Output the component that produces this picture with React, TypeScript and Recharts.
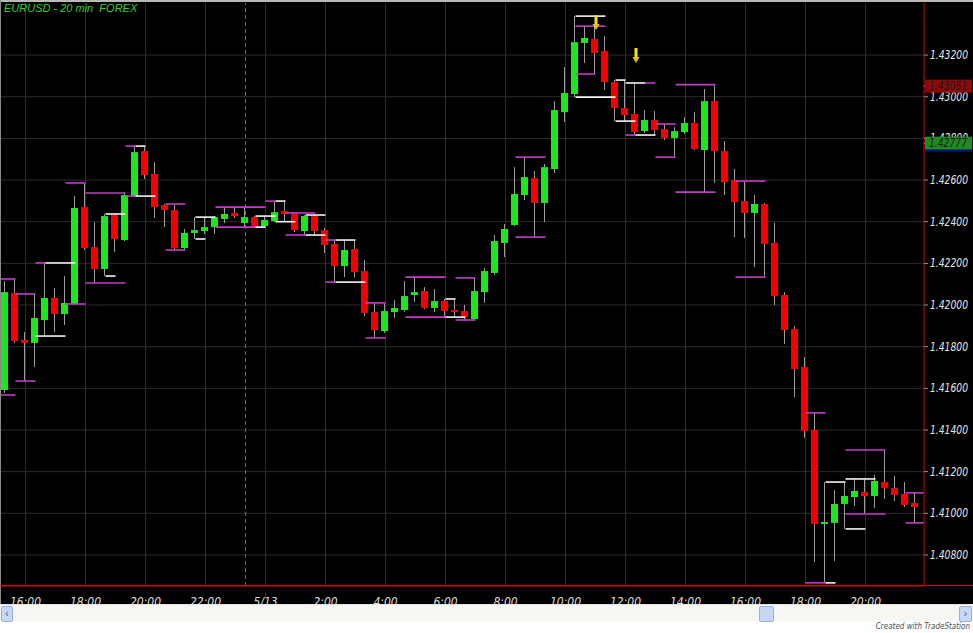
import React from 'react';
import {
  ComposedChart,
  Bar,
  XAxis,
  YAxis,
  CartesianGrid,
  ReferenceLine,
  ReferenceDot,
} from 'recharts';

// --- Data (EURUSD 20 min bars) ---

const openPrices = [
  1.41592, 1.42058, 1.41832, 1.41818, 1.41928, 1.42034, 1.41957, 1.42005, 1.4247, 1.42278,
  1.42173, 1.42432, 1.42312, 1.42523, 1.42739, 1.42629, 1.4248, 1.42456, 1.42274, 1.42346,
  1.42355, 1.42374, 1.42413, 1.42442, 1.42394, 1.42422, 1.42379, 1.42403, 1.42451, 1.42442,
  1.42355, 1.42427, 1.4236, 1.42293, 1.42187, 1.42269, 1.42163, 1.41966, 1.41875, 1.41966,
  1.41976, 1.42048, 1.42067, 1.41986, 1.42019, 1.41976, 1.41971, 1.41933, 1.42062, 1.42154,
  1.42298, 1.42384, 1.42528, 1.4261, 1.4249, 1.42653, 1.42926, 1.43013, 1.43258, 1.43277,
  1.43219, 1.4307, 1.42946, 1.42917, 1.42835, 1.42888, 1.42845, 1.42802, 1.4283, 1.42874,
  1.42744, 1.42979, 1.42739, 1.426, 1.42499, 1.42442, 1.42485, 1.42298, 1.42048, 1.41885,
  1.41702, 1.414, 1.40949, 1.40954, 1.41045, 1.41078, 1.41102, 1.41083, 1.4115, 1.41122,
  1.41093, 1.4105,
];

const highPrices = [
  1.42115, 1.42125, 1.4187, 1.42053, 1.42202, 1.42082, 1.42139, 1.42523, 1.42586, 1.42398,
  1.42437, 1.42437, 1.42542, 1.42763, 1.42758, 1.42686, 1.42485, 1.4248, 1.42365, 1.42422,
  1.42422, 1.42427, 1.42466, 1.42466, 1.4247, 1.42427, 1.42427, 1.42499, 1.42499, 1.42446,
  1.42432, 1.42432, 1.4237, 1.42312, 1.42312, 1.42312, 1.42216, 1.4201, 1.4201, 1.42024,
  1.42115, 1.42134, 1.42086, 1.42077, 1.42029, 1.42029, 1.42, 1.4213, 1.42178, 1.42336,
  1.42389, 1.42662, 1.4271, 1.42643, 1.42677, 1.42979, 1.43142, 1.43387, 1.43339, 1.43339,
  1.43291, 1.4308, 1.4308, 1.43066, 1.42936, 1.42931, 1.42869, 1.42854, 1.42902, 1.42926,
  1.43037, 1.43056, 1.42787, 1.42653, 1.42595, 1.42528, 1.4249, 1.42394, 1.42062, 1.41899,
  1.4175, 1.41482, 1.4115, 1.41112, 1.4115, 1.41165, 1.41165, 1.41184, 1.41304, 1.41179,
  1.4115, 1.41098,
];

const lowPrices = [
  1.41578, 1.41818, 1.41635, 1.41702, 1.41851, 1.4187, 1.41904, 1.42, 1.42264, 1.42106,
  1.42139, 1.42254, 1.42307, 1.42518, 1.42605, 1.42418, 1.42374, 1.42264, 1.42264, 1.42317,
  1.42341, 1.42341, 1.42394, 1.42418, 1.42374, 1.42374, 1.42374, 1.42398, 1.42398, 1.4235,
  1.42336, 1.42336, 1.4225, 1.4211, 1.42134, 1.42134, 1.41947, 1.41842, 1.41866, 1.41938,
  1.41966, 1.42014, 1.41981, 1.41966, 1.41938, 1.41942, 1.41923, 1.41928, 1.4201, 1.42144,
  1.4223, 1.42379, 1.42504, 1.42326, 1.42398, 1.42634, 1.42878, 1.42998, 1.43162, 1.43109,
  1.43032, 1.42883, 1.42883, 1.42816, 1.42826, 1.42816, 1.42792, 1.4271, 1.42821, 1.42744,
  1.42542, 1.42586, 1.42528, 1.42326, 1.42322, 1.42182, 1.42134, 1.42, 1.41813, 1.41558,
  1.41362, 1.40766, 1.40666, 1.40771, 1.40925, 1.41035, 1.40997, 1.41026, 1.41069, 1.41059,
  1.4103, 1.40954,
];

const closePrices = [
  1.42062, 1.41827, 1.41818, 1.41938, 1.42034, 1.41957, 1.4201, 1.42466, 1.42274, 1.42173,
  1.42427, 1.42317, 1.42528, 1.42734, 1.42624, 1.4247, 1.42456, 1.42274, 1.42346, 1.4236,
  1.42374, 1.42422, 1.42437, 1.42427, 1.42422, 1.42379, 1.42408, 1.42446, 1.42437, 1.4236,
  1.42427, 1.42355, 1.42288, 1.42187, 1.42264, 1.42158, 1.41962, 1.4188, 1.41971, 1.41986,
  1.42043, 1.42062, 1.41986, 1.42019, 1.41971, 1.41966, 1.41942, 1.42067, 1.42163, 1.42307,
  1.42365, 1.42533, 1.42614, 1.4249, 1.42662, 1.42936, 1.43018, 1.43262, 1.43282, 1.4321,
  1.4307, 1.42946, 1.42912, 1.4283, 1.42888, 1.4284, 1.42802, 1.42835, 1.42874, 1.42749,
  1.42979, 1.42739, 1.4259, 1.42494, 1.42442, 1.42485, 1.42293, 1.42043, 1.4188, 1.41693,
  1.41395, 1.40949, 1.40958, 1.41045, 1.41083, 1.41107, 1.41083, 1.41155, 1.41122, 1.41088,
  1.4104, 1.4103,
];

// bar index of each time label on the bottom axis (every 2 hours)
const timeTickBars = [2, 8, 14, 20, 26, 32, 38, 44, 50, 56, 62, 68, 74, 80, 86];
const timeLabels = [
  '16:00', '18:00', '20:00', '22:00', '5/13', '2:00', '4:00', '6:00',
  '8:00', '10:00', '12:00', '14:00', '16:00', '18:00', '20:00',
];
const priceTicks = [
  1.408, 1.41, 1.412, 1.414, 1.416, 1.418, 1.42, 1.422, 1.424, 1.426, 1.428, 1.43, 1.432,
];
const sessionBreakBar = 24;

// swing high/low levels drawn by the study: [fromBar, toBar, price, kind]
const levelLines: [number, number, number, 'm' | 'w'][] = [
  [-0.5, 1, 1.42125, 'm'], [-0.5, 1, 1.41568, 'm'], [1, 3, 1.41635, 'm'], [1, 3, 1.42053, 'm'],
  [3, 4, 1.42202, 'm'], [4, 7, 1.42202, 'w'], [3, 6, 1.41851, 'w'], [6, 8, 1.42005, 'm'],
  [6, 8, 1.42586, 'm'], [8, 12, 1.42538, 'm'], [12, 13, 1.42523, 'm'], [13, 15, 1.42523, 'w'],
  [8, 12, 1.42106, 'm'], [10, 12, 1.42437, 'w'], [10, 11, 1.42139, 'w'], [12, 13, 1.42763, 'm'],
  [13, 14, 1.42763, 'w'], [16, 18, 1.42485, 'm'], [16, 18, 1.42264, 'm'], [19, 21, 1.42422, 'w'],
  [19, 20, 1.42317, 'w'], [21, 26, 1.4247, 'm'], [21, 26, 1.42374, 'm'], [25, 27, 1.42427, 'w'],
  [25, 26, 1.42374, 'w'], [26, 27, 1.42499, 'm'], [27, 28, 1.42499, 'w'], [27, 29, 1.424, 'w'],
  [28, 31, 1.42442, 'm'], [30, 32, 1.42432, 'w'], [28, 30, 1.42336, 'm'], [30, 32, 1.42336, 'w'],
  [32, 33, 1.42312, 'm'], [33, 35, 1.42312, 'w'], [32, 33, 1.4211, 'm'], [33, 36, 1.4211, 'w'],
  [36, 38, 1.4201, 'm'], [36, 38, 1.41842, 'm'], [40, 44, 1.42134, 'm'], [40, 44, 1.41942, 'm'],
  [44, 46, 1.41942, 'w'], [44, 45, 1.42029, 'w'], [45, 47, 1.4213, 'm'], [45, 47, 1.41928, 'm'],
  [51, 54, 1.4271, 'm'], [51, 54, 1.42326, 'm'], [57, 60, 1.43387, 'w'], [57, 60, 1.43339, 'm'],
  [57, 61, 1.42998, 'w'], [57, 59, 1.43109, 'm'], [61, 62, 1.4308, 'w'], [62, 64, 1.43066, 'w'],
  [64, 65, 1.43066, 'm'], [61, 63, 1.42883, 'w'], [62, 63, 1.42816, 'm'], [63, 65, 1.42816, 'w'],
  [65, 67, 1.42869, 'm'], [65, 67, 1.4271, 'm'], [67, 71, 1.43058, 'm'], [67, 71, 1.42542, 'm'],
  [73, 76, 1.42595, 'm'], [73, 76, 1.42134, 'm'], [80, 82, 1.41482, 'm'], [80, 82, 1.40666, 'm'],
  [82, 83, 1.40666, 'w'], [82, 84, 1.4115, 'w'], [84, 86, 1.40925, 'w'], [84, 87, 1.41165, 'w'],
  [84, 88, 1.41304, 'm'], [84, 88, 1.40997, 'm'], [90, 92, 1.41098, 'm'], [90, 92, 1.40954, 'm'],
];

// yellow signal arrows: bar index + price at the arrow tip
const arrowBars = [59, 63];
const arrowPrices = [1.4332, 1.43162];

// study values shown in the price scale
const markerPrices = [1.43051, 1.42777];
const markerColors = ['#8e0a0a', '#1f8a1f'];

// --- Constants ---
const WIDTH = 973;
const CHART_H = 612;
const X_DOMAIN: [number, number] = [-0.45, 91.85];
const Y_DOMAIN: [number, number] = [1.40651, 1.4345];
const UP = '#1ee61e';
const DOWN = '#f40000';
const WICK = '#9c9c9c';
const MAGENTA = '#c23cc6';
const NARROW = "'Liberation Sans Narrow', 'DejaVu Sans Condensed', sans-serif";

const candles = openPrices.map((o, i) => ({
  i,
  o,
  h: highPrices[i],
  l: lowPrices[i],
  c: closePrices[i],
  range: [lowPrices[i], highPrices[i]],
}));

const Candle = (props: any) => {
  const { x, y, width, height, payload } = props;
  if (!payload) return null;
  const { o, h, l, c } = payload;
  const top = Math.min(y, y + height);
  const hh = Math.abs(height);
  const k = hh / (h - l || 1);
  const yOf = (v: number) => top + (h - v) * k;
  const bTop = yOf(Math.max(o, c));
  const bBot = yOf(Math.min(o, c));
  const cx = Math.round(x + width / 2) - 0.5;
  return (
    <g>
      <line x1={cx} x2={cx} y1={top} y2={top + hh} stroke={WICK} strokeWidth={1} />
      <rect
        x={cx - 3.5}
        y={bTop}
        width={7}
        height={Math.max(bBot - bTop, 2)}
        fill={c >= o ? UP : DOWN}
      />
    </g>
  );
};

const TimeTick = (props: any) => {
  const { x, y, payload } = props;
  const label = timeLabels[timeTickBars.indexOf(payload.value)] ?? '';
  return (
    <g>
      {label === '5/13' && <line x1={x} x2={x} y1={y - 1} y2={y + 4} stroke="#e00000" />}
      <text
        x={x}
        y={y + 12}
        textAnchor="middle"
        fill="#dcdcdc"
        fontSize={12}
        fontStyle="italic"
        fontFamily={NARROW}
      >
        {label}
      </text>
    </g>
  );
};

// price scale label; the study values get a coloured box drawn over the scale
const PriceTick = (props: any) => {
  const { x, y, payload } = props;
  const value = Number(payload.value);
  const mk = markerPrices.indexOf(value);
  if (mk >= 0) {
    const left = x - 5;
    return (
      <g>
        <rect x={left} y={y - 6.5} width={47} height={13} fill={markerColors[mk]} />
        {mk === 1 && <rect x={left} y={y + 6.5} width={47} height={2} fill="#10108a" />}
        <text
          x={left + 4}
          y={y + 4}
          fill="#1a1a1a"
          fontSize={12}
          fontStyle="italic"
          fontFamily={NARROW}
          textLength={38}
          lengthAdjust="spacingAndGlyphs"
        >
          {value.toFixed(5)}
        </text>
      </g>
    );
  }
  return (
    <text
      x={x}
      y={y + 4}
      textAnchor="start"
      fill="#e6e6e6"
      fontSize={12}
      fontStyle="italic"
      fontFamily={NARROW}
      textLength={38}
      lengthAdjust="spacingAndGlyphs"
    >
      {value.toFixed(5)}
    </text>
  );
};

const Arrow = (props: any) => {
  const { cx, cy } = props;
  if (cx == null || cy == null) return null;
  return (
    <g>
      <rect x={cx - 1} y={cy - 15} width={3} height={10} fill="#f2e600" />
      <path d={`M${cx - 3},${cy - 6} L${cx + 4},${cy - 6} L${cx + 0.5},${cy} Z`} fill="#e8c400" />
    </g>
  );
};

export default function App() {
  return (
    <div
      style={{
        position: 'absolute',
        left: 0,
        top: 0,
        width: WIDTH,
        height: 633,
        background: '#ffffff',
        overflow: 'hidden',
      }}
    >
      <div style={{ position: 'absolute', left: 0, top: 0, width: WIDTH, height: CHART_H, background: '#000' }}>
        <ComposedChart
          width={WIDTH}
          height={CHART_H}
          data={candles}
          margin={{ top: 3, right: 0, bottom: 0, left: 1 }}
        >
          <CartesianGrid
            stroke="#2c2c2c"
            fill="none"
            horizontalValues={priceTicks}
            verticalValues={timeTickBars}
          />
          <XAxis
            dataKey="i"
            type="number"
            domain={X_DOMAIN}
            ticks={timeTickBars}
            interval={0}
            allowDataOverflow
            height={26}
            axisLine={{ stroke: '#e00000' }}
            tickLine={false}
            tick={<TimeTick />}
          />
          <YAxis
            orientation="right"
            type="number"
            domain={Y_DOMAIN}
            ticks={[...priceTicks, ...markerPrices]}
            interval={0}
            allowDataOverflow
            width={49}
            axisLine={{ stroke: '#e00000' }}
            tickLine={{ stroke: '#9a9a9a' }}
            tickSize={4}
            tickMargin={2}
            tick={<PriceTick />}
          />
          <ReferenceLine
            x={sessionBreakBar}
            stroke="#6a6a6a"
            strokeDasharray="4 3"
          />
          {levelLines.map(([a, b, p, kind], idx) => (
            <ReferenceLine
              key={'lv' + idx}
              segment={[
                { x: Math.max(a, X_DOMAIN[0]), y: p },
                { x: Math.min(b, X_DOMAIN[1]), y: p },
              ]}
              stroke={kind === 'm' ? MAGENTA : '#f4f4f4'}
              strokeWidth={1.6}
              ifOverflow="hidden"
            />
          ))}
          <Bar
            dataKey="range"
            barSize={7}
            shape={<Candle />}
            isAnimationActive={false}
          />
          {arrowBars.map((b, idx) => (
            <ReferenceDot
              key={'ar' + idx}
              x={b}
              y={arrowPrices[idx]}
              r={0}
              shape={<Arrow />}
              ifOverflow="visible"
            />
          ))}
        </ComposedChart>
      </div>

      {/* title */}
      <div
        style={{
          position: 'absolute',
          left: 4,
          top: 2,
          color: '#2fd12f',
          fontFamily: "'Liberation Sans', Arial, sans-serif",
          fontStyle: 'italic',
          fontSize: 11,
          whiteSpace: 'pre',
        }}
      >
        {'EURUSD - 20 min  FOREX'}
      </div>

      {/* window frame */}
      <div style={{ position: 'absolute', left: 0, top: 0, width: WIDTH, height: 2, background: '#b9b9b9' }} />
      <div style={{ position: 'absolute', left: 0, top: 0, width: 1, height: 604, background: '#8a8a8a' }} />
      <div style={{ position: 'absolute', left: 0, top: 585, width: WIDTH, height: 1, background: '#e00000' }} />

      {/* scroll bar */}
      <div
        style={{
          position: 'absolute',
          left: 0,
          top: 604,
          width: WIDTH,
          height: 16,
          background: '#f6f6f2',
          borderTop: '1px solid #e4e4e0',
        }}
      >
        <div style={{ position: 'absolute', left: 1, top: 1, width: 10, height: 14, background: '#c8d8f4', border: '1px solid #9ab0dc', borderRadius: 2, color: '#3a5aa0', fontSize: 10, lineHeight: '14px', textAlign: 'center', fontFamily: 'sans-serif' }}>‹</div>
        <div style={{ position: 'absolute', left: 759, top: 1, width: 13, height: 14, background: '#c8d8f4', border: '1px solid #9ab0dc', borderRadius: 2 }} />
        <div style={{ position: 'absolute', left: 959, top: 1, width: 11, height: 14, background: '#c8d8f4', border: '1px solid #9ab0dc', borderRadius: 2, color: '#3a5aa0', fontSize: 10, lineHeight: '14px', textAlign: 'center', fontFamily: 'sans-serif' }}>›</div>
      </div>

      {/* footer */}
      <div
        style={{
          position: 'absolute',
          right: 3,
          top: 622,
          fontSize: 8,
          fontStyle: 'italic',
          color: '#505050',
          fontFamily: NARROW,
          background: '#ffffff',
        }}
      >
        Created with TradeStation
      </div>
    </div>
  );
}
